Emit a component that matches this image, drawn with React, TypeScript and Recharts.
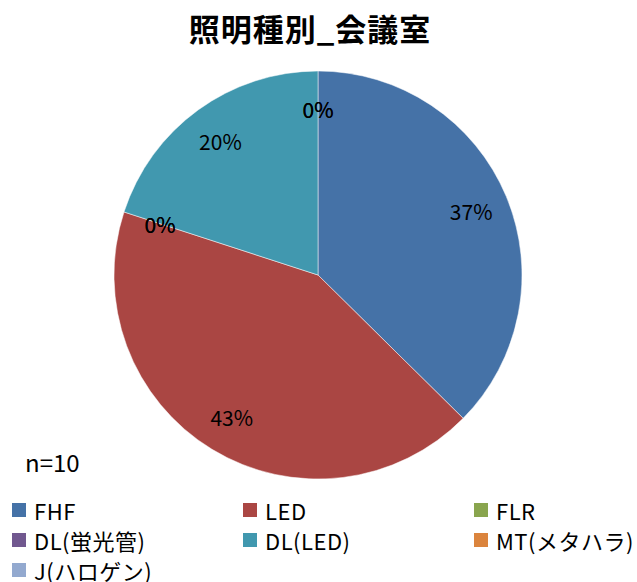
import { PieChart, Pie, Cell, Legend } from "recharts";

const categories = ["FHF", "LED", "FLR", "DL(蛍光管)", "DL(LED)", "MT(メタハラ)", "J(ハロゲン)"];
const shares = [37.4, 42.6, 0, 0, 20, 0, 0];
const colors = ["#4572A7", "#AA4643", "#89A54E", "#71588F", "#4198AF", "#DB843D", "#93A9CF"];
const sampleNote = "n=10";

const data = categories.map((name, i) => ({ name, value: shares[i] }));

const FONT = "'Noto Sans CJK JP', 'Noto Sans', sans-serif";
const RAD = Math.PI / 180;

const renderLabel = (props: any) => {
  const { cx, cy, midAngle, percent } = props;
  const r = 166;
  const x = cx + r * Math.cos(-midAngle * RAD);
  const y = cy + r * Math.sin(-midAngle * RAD);
  return (
    <text x={x} y={y} textAnchor="middle" dominantBaseline="central" fontSize={21} fontFamily={FONT} fill="#000">
      {`${Math.round(percent * 100)}%`}
    </text>
  );
};

const renderLegend = () => (
  <div style={{ display: "grid", gridTemplateColumns: "231px 231px 163px", rowGap: 4, fontFamily: FONT, fontSize: 22 }}>
    {categories.map((c, i) => (
      <div key={c} style={{ display: "flex", alignItems: "center", height: 26, whiteSpace: "nowrap" }}>
        <span style={{ display: "inline-block", width: 14, height: 14, background: colors[i], marginRight: 8 }} />
        <span style={{ letterSpacing: 0.5 }}>{c}</span>
      </div>
    ))}
  </div>
);

export default function App() {
  return (
    <div style={{ position: "absolute", left: 0, top: 0, width: 637, height: 582, background: "#fff", overflow: "hidden" }}>
      <div style={{ position: "absolute", top: 5, left: 0, width: 620, textAlign: "center", fontFamily: FONT, fontWeight: 700, fontSize: 31, letterSpacing: 1 }}>
        照明種別_会議室
      </div>
      <div style={{ position: "absolute", left: 25, top: 444, fontFamily: FONT, fontSize: 24 }}>{sampleNote}</div>
      <PieChart width={637} height={582} margin={{ top: 0, right: 0, bottom: 0, left: 0 }}>
        <Pie
          data={data}
          dataKey="value"
          nameKey="name"
          cx={318}
          cy={275}
          outerRadius={204}
          startAngle={90}
          endAngle={-270}
          stroke="#fff"
          strokeWidth={0.5}
          label={renderLabel}
          labelLine={false}
          isAnimationActive={false}
        >
          {data.map((d, i) => (
            <Cell key={d.name} fill={colors[i]} />
          ))}
        </Pie>
        <Legend content={renderLegend} wrapperStyle={{ position: "absolute", left: 12, top: 497, width: 625 }} />
      </PieChart>
    </div>
  );
}
